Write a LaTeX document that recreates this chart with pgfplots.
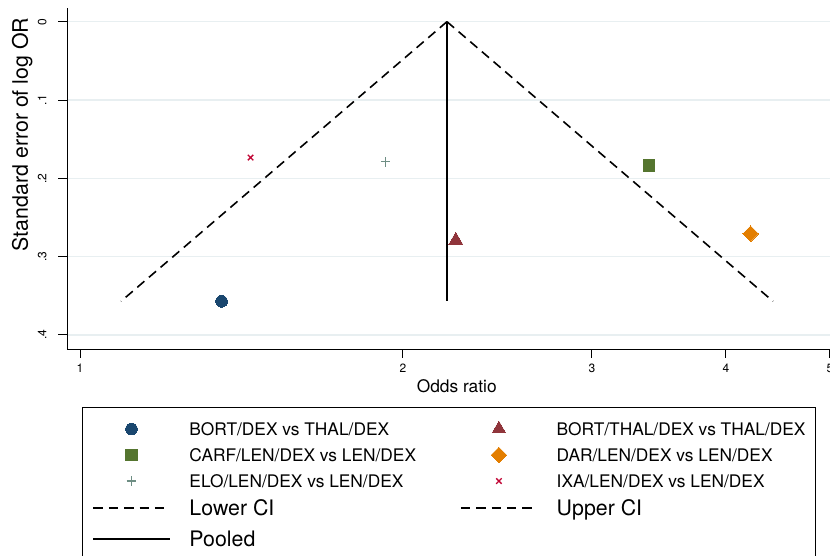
\documentclass[border=0pt]{standalone}
\usepackage{fontspec}
\setmainfont{TeX Gyre Heros}
\usepackage{pgfplots}
\pgfplotsset{compat=1.18}

% Stata s2color palette
\definecolor{stnavy}{RGB}{26,71,111}
\definecolor{stmaroon}{RGB}{144,53,59}
\definecolor{stforest}{RGB}{85,117,47}
\definecolor{stdkorange}{RGB}{227,126,0}
\definecolor{stteal}{RGB}{110,142,132}
\definecolor{stcranberry}{RGB}{193,5,52}
\definecolor{gridc}{RGB}{232,239,241}

% struts that fix the height of each legend row
\newcommand{\rowA}{\rule[-5.1pt]{0pt}{19.5pt}}
\newcommand{\rowB}{\rule[-4.87pt]{0pt}{21.2pt}}
\newcommand{\rowC}{\rule[-6.87pt]{0pt}{25.2pt}}
\newcommand{\largeentry}{\fontsize{16}{18}\selectfont}

\begin{document}
\begin{tikzpicture}
\begin{axis}[
  scale only axis,
  width=580.5pt, height=255.75pt,
  xmode=log,
  xmin=0.9725, xmax=5.12,
  ymin=-0.01745, ymax=0.4179,
  y dir=reverse,
  axis x line*=bottom, axis y line*=left,
  axis line style={line width=0.75pt, black},
  tick align=outside,
  major tick length=6.5pt,
  major tick style={line width=0.75pt, black},
  minor tick num=0,
  xtick={1,2,3,4,5}, xticklabels={1,2,3,4,5},
  ytick={0,0.1,0.2,0.3,0.4}, yticklabels={0,.1,.2,.3,.4},
  /pgf/number format/assume math mode=true,
  tick label style={font=\fontsize{9}{10}\selectfont},
  xticklabel style={anchor=base, inner sep=0pt},
  xticklabel shift=11pt,
  yticklabel style={rotate=90, anchor=base, inner sep=0pt},
  yticklabel shift=9pt,
  ymajorgrids,
  major grid style={line width=1pt, gridc},
  xlabel={Odds ratio},
  ylabel={Standard error of log OR},
  every axis x label/.style={at={(axis description cs:0.5035,-0.1281)}, anchor=base, font=\fontsize{13}{15}\selectfont},
  every axis y label/.style={at={(axis description cs:-0.0504,0.629)}, rotate=90, anchor=base, font=\fontsize{16}{18}\selectfont},
  legend columns=2,
  legend cell align=left,
  legend image code/.code={\draw[mark repeat=2, mark phase=2, #1] plot coordinates {(0pt,0pt) (28.5pt,0pt) (57pt,0pt)};},
  legend style={
    at={(axis description cs:0.01938,-0.1701)}, anchor=north west,
    draw=black, line width=0.75pt, fill=white,
    inner xsep=7.5pt, inner ysep=6.4pt,
    font=\fontsize{13}{15}\selectfont,
    nodes={inner sep=0pt, text depth=},
    /tikz/every odd column/.style={column sep=14.25pt},
    /tikz/every even column/.style={column sep=33pt},
  },
]
% studies
\addplot[only marks, mark=*, mark size=4.4pt, mark options={fill=stnavy, draw=stnavy, line width=0pt}]
  coordinates {(1.355,0.357)};
\addlegendentry{\rowA BORT/DEX vs THAL/DEX}
\addplot[only marks, mark=triangle*, mark size=5.9pt, mark options={fill=stmaroon, draw=stmaroon, line width=0pt}]
  coordinates {(2.240,0.279)};
\addlegendentry{\rowA BORT/THAL/DEX vs THAL/DEX\hspace{20pt}}
\addplot[only marks, mark=square*, mark size=4.4pt, mark options={fill=stforest, draw=stforest, line width=0pt}]
  coordinates {(3.391,0.184)};
\addlegendentry{\rowA CARF/LEN/DEX vs LEN/DEX}
\addplot[only marks, mark=square*, mark size=4.1pt, mark options={rotate=45, fill=stdkorange, draw=stdkorange, line width=0pt}]
  coordinates {(4.218,0.2707)};
\addlegendentry{\rowA DAR/LEN/DEX vs LEN/DEX}
\addplot[only marks, mark=+, mark size=3.6pt, mark options={draw=stteal, line width=0.9pt}]
  coordinates {(1.927,0.179)};
\addlegendentry{\rowA ELO/LEN/DEX vs LEN/DEX}
\addplot[only marks, mark=x, mark size=2.9pt, mark options={draw=stcranberry, line width=1pt}]
  coordinates {(1.442,0.1735)};
\addlegendentry{\rowA IXA/LEN/DEX vs LEN/DEX}
% pseudo 95% confidence limits and pooled estimate
\addplot[no marks, black, line width=1.2pt, dash pattern=on 7pt off 4.5pt]
  coordinates {(2.198,0) (1.092,0.357)};
\addlegendentry{\rowB\largeentry Lower CI}
\addplot[no marks, black, line width=1.2pt, dash pattern=on 7pt off 4.5pt]
  coordinates {(2.198,0) (4.425,0.357)};
\addlegendentry{\rowB\largeentry Upper CI}
\addplot[no marks, black, line width=1.5pt]
  coordinates {(2.198,0) (2.198,0.357)};
\addlegendentry{\rowC\largeentry Pooled}
\end{axis}
\pgfresetboundingbox
\path[use as bounding box]
  ([xshift=-50.25pt, yshift=-154.5pt]current axis.south west)
  rectangle ([xshift=-8.25pt, yshift=6pt]current axis.north east);
\end{tikzpicture}
\end{document}
